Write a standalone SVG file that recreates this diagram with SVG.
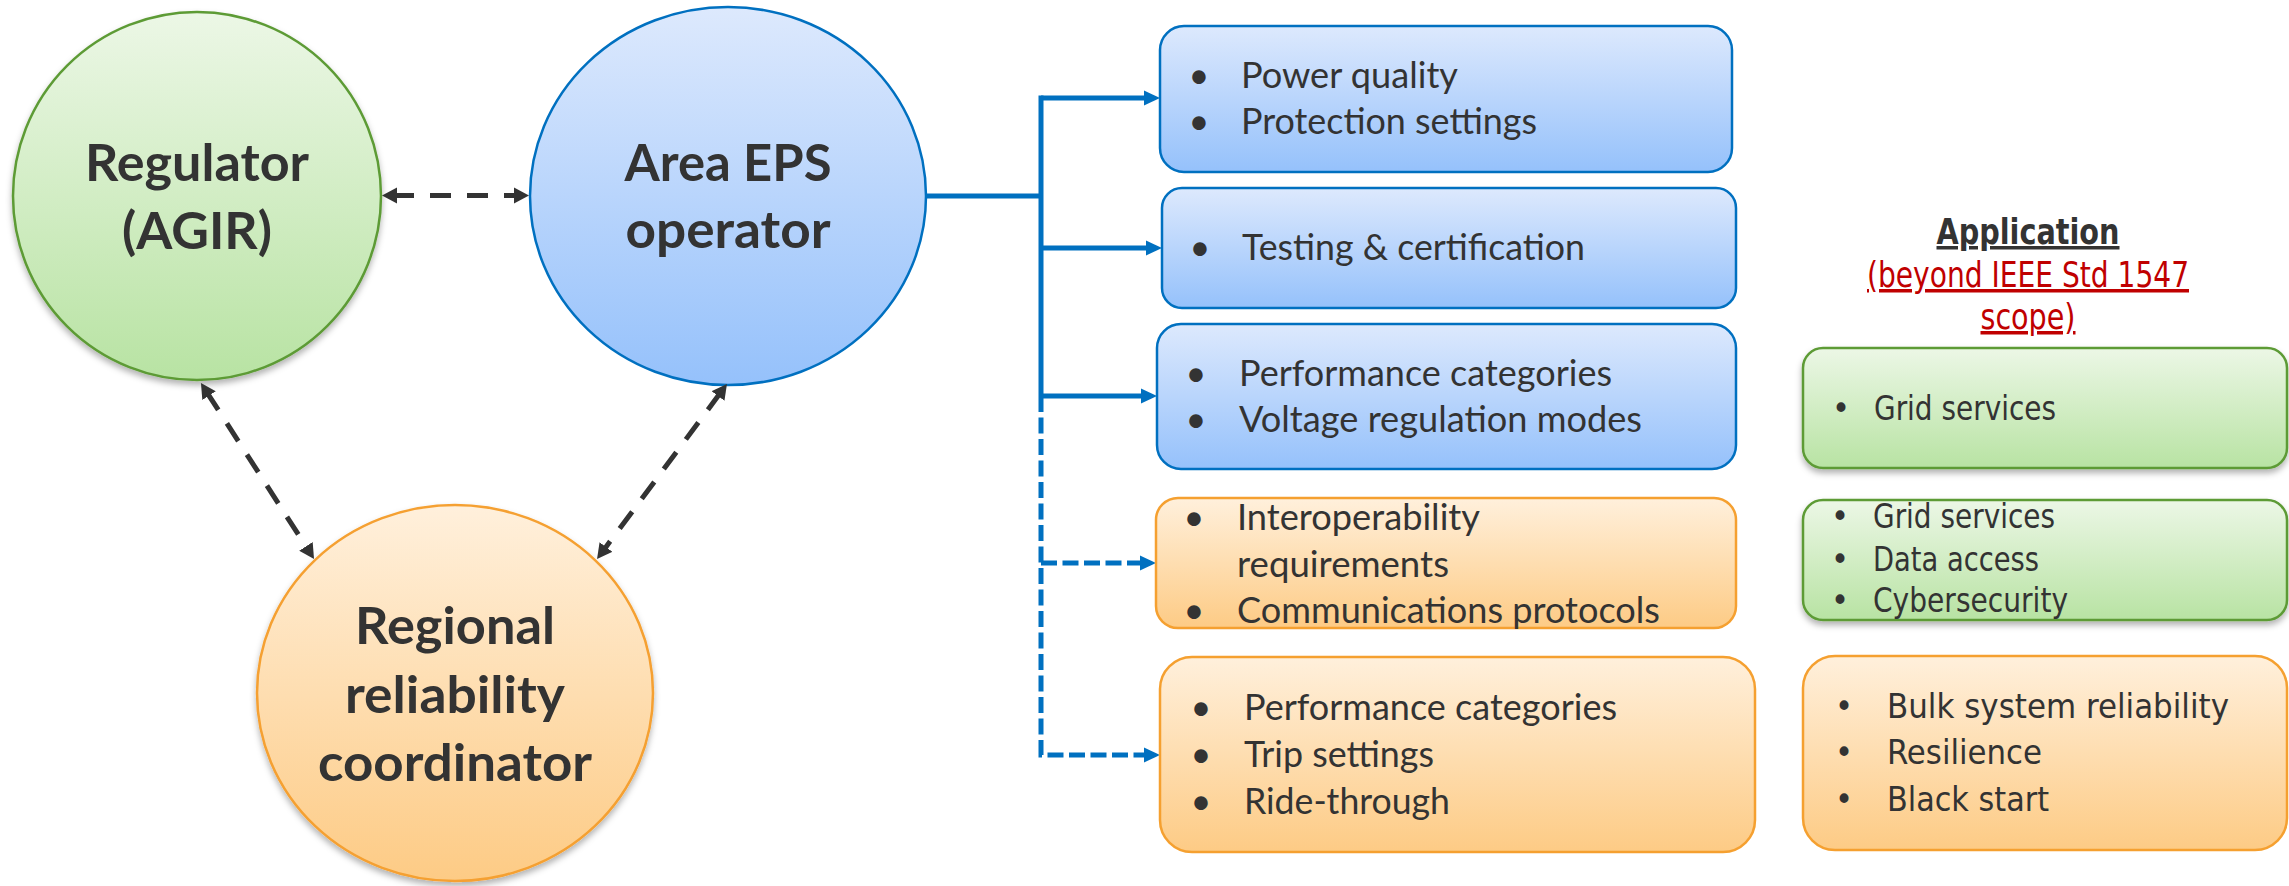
<svg xmlns="http://www.w3.org/2000/svg" width="2289" height="886" viewBox="0 0 2289 886">
<style>
.cl{font-family:Lato,"Liberation Sans",sans-serif;font-weight:700;font-size:51px;fill:#333;text-anchor:middle}
.bt{font-family:Lato,"Liberation Sans",sans-serif;font-size:36px;fill:#333}
.bu{font-family:Lato,"Liberation Sans",sans-serif;font-size:36px;fill:#333;text-anchor:middle}
.rt{font-family:"DejaVu Sans Condensed","DejaVu Sans",sans-serif;font-size:34px;fill:#333}
.rb{font-family:"DejaVu Sans Condensed","DejaVu Sans",sans-serif;font-size:34px;fill:#333;text-anchor:middle}
.hd{font-family:"DejaVu Sans Condensed","DejaVu Sans",sans-serif;font-size:35px;text-anchor:middle;text-decoration:underline}
.blue{fill:url(#gBlue);stroke:#0070c0;stroke-width:2.5}
.green{fill:url(#gGreen);stroke:#5d9b36;stroke-width:2.5}
.orange{fill:url(#gOrange);stroke:#f5a030;stroke-width:2.5}
.gray{fill:none;stroke:#333;stroke-width:5;stroke-dasharray:21 16}
.bl{fill:none;stroke:#0070c0;stroke-width:5}
.bd{fill:none;stroke:#0070c0;stroke-width:5;stroke-dasharray:16 5.5}
</style>
<defs>
<linearGradient id="gBlue" x1="0" y1="0" x2="0" y2="1"><stop offset="0" stop-color="#dde9fd"/><stop offset="1" stop-color="#95c1fb"/></linearGradient>
<linearGradient id="gGreen" x1="0" y1="0" x2="0" y2="1"><stop offset="0" stop-color="#ecf7e6"/><stop offset="1" stop-color="#b8e3a3"/></linearGradient>
<linearGradient id="gOrange" x1="0" y1="0" x2="0" y2="1"><stop offset="0" stop-color="#fff0dc"/><stop offset="1" stop-color="#fdcb85"/></linearGradient>
<filter id="sh" x="-10%" y="-10%" width="120%" height="130%"><feDropShadow dx="0" dy="4" stdDeviation="3" flood-color="#000" flood-opacity="0.3"/></filter>
<marker id="aBlue" markerUnits="userSpaceOnUse" markerWidth="17" markerHeight="16" viewBox="0 0 17 16" refX="5" refY="8" orient="auto"><path d="M0,0.5 L16,8 L0,15.5 z" fill="#0070c0"/></marker>
<marker id="aGray" markerUnits="userSpaceOnUse" markerWidth="16" markerHeight="17" viewBox="0 0 16 17" refX="4" refY="8.5" orient="auto-start-reverse"><path d="M0,0.5 L15,8.5 L0,16.5 z" fill="#333"/></marker>
</defs>
<rect width="2289" height="886" fill="#fff"/>

<g id="regulator">
<ellipse cx="197" cy="196" rx="184" ry="184" class="green" filter="url(#sh)"/>
<text class="cl" x="197" y="181" textLength="224" lengthAdjust="spacingAndGlyphs">Regulator</text>
<text class="cl" x="197" y="249" textLength="150" lengthAdjust="spacingAndGlyphs">(AGIR)</text>
</g>
<g id="area-eps">
<ellipse cx="728" cy="196" rx="198" ry="189" class="blue"/>
<text class="cl" x="728" y="181" textLength="207" lengthAdjust="spacingAndGlyphs">Area EPS</text>
<text class="cl" x="728" y="248" textLength="205" lengthAdjust="spacingAndGlyphs">operator</text>
</g>
<g id="regional">
<ellipse cx="455" cy="693" rx="198" ry="188" class="orange" filter="url(#sh)"/>
<text class="cl" x="455" y="644" textLength="200" lengthAdjust="spacingAndGlyphs">Regional</text>
<text class="cl" x="455" y="713" textLength="220" lengthAdjust="spacingAndGlyphs">reliability</text>
<text class="cl" x="455" y="781" textLength="274" lengthAdjust="spacingAndGlyphs">coordinator</text>
</g>

<g id="connectors">
<path class="gray" d="M393,195.5 H518" marker-start="url(#aGray)" marker-end="url(#aGray)"/>
<path class="gray" d="M206.9,392.3 L308.1,549.7" marker-start="url(#aGray)" marker-end="url(#aGray)"/>
<path class="gray" d="M720.4,392.8 L603.6,550.2" marker-start="url(#aGray)" marker-end="url(#aGray)"/>
<path class="bl" d="M926,196 H1041 M1041,95.5 V396"/>
<path class="bl" d="M1041,98 H1149" marker-end="url(#aBlue)"/>
<path class="bl" d="M1041,248 H1151" marker-end="url(#aBlue)"/>
<path class="bl" d="M1041,396 H1146" marker-end="url(#aBlue)"/>
<path class="bd" d="M1041,396 V755 H1149" marker-end="url(#aBlue)"/>
<path class="bd" d="M1041,563 H1145" marker-end="url(#aBlue)"/>
</g>

<g id="box-power">
<rect x="1160" y="26" width="572" height="146" rx="24" class="blue"/>
<text class="bu" x="1199" y="88">•</text><text class="bt" x="1241" y="88" textLength="217" lengthAdjust="spacingAndGlyphs">Power quality</text>
<text class="bu" x="1199" y="134">•</text><text class="bt" x="1241" y="134" textLength="296" lengthAdjust="spacingAndGlyphs">Protection settings</text>
</g>
<g id="box-testing">
<rect x="1162" y="188" width="574" height="120" rx="20" class="blue"/>
<text class="bu" x="1200" y="260">•</text><text class="bt" x="1242" y="260" textLength="343" lengthAdjust="spacingAndGlyphs">Testing &amp; certification</text>
</g>
<g id="box-performance">
<rect x="1157" y="324" width="579" height="145" rx="24" class="blue"/>
<text class="bu" x="1196" y="386">•</text><text class="bt" x="1239" y="386" textLength="373" lengthAdjust="spacingAndGlyphs">Performance categories</text>
<text class="bu" x="1196" y="432">•</text><text class="bt" x="1239" y="432" textLength="403" lengthAdjust="spacingAndGlyphs">Voltage regulation modes</text>
</g>
<g id="box-interop">
<rect x="1156" y="498" width="580" height="130" rx="22" class="orange"/>
<text class="bu" x="1194" y="530">•</text><text class="bt" x="1237" y="530" textLength="243" lengthAdjust="spacingAndGlyphs">Interoperability</text>
<text class="bt" x="1237" y="577" textLength="212" lengthAdjust="spacingAndGlyphs">requirements</text>
<text class="bu" x="1194" y="623">•</text><text class="bt" x="1237" y="623" textLength="423" lengthAdjust="spacingAndGlyphs">Communications protocols</text>
</g>
<g id="box-trip">
<rect x="1160" y="657" width="595" height="195" rx="32" class="orange"/>
<text class="bu" x="1201" y="720">•</text><text class="bt" x="1244" y="720" textLength="373" lengthAdjust="spacingAndGlyphs">Performance categories</text>
<text class="bu" x="1201" y="767">•</text><text class="bt" x="1244" y="767" textLength="190" lengthAdjust="spacingAndGlyphs">Trip settings</text>
<text class="bu" x="1201" y="814">•</text><text class="bt" x="1244" y="814" textLength="206" lengthAdjust="spacingAndGlyphs">Ride-through</text>
</g>

<g id="application-heading">
<text class="hd" x="2028" y="244" font-weight="700" fill="#333" textLength="183" lengthAdjust="spacingAndGlyphs">Application</text>
<text class="hd" x="2028" y="287" fill="#c00000" textLength="322" lengthAdjust="spacingAndGlyphs">(beyond IEEE Std 1547</text>
<text class="hd" x="2028" y="329" fill="#c00000" textLength="95" lengthAdjust="spacingAndGlyphs">scope)</text>
</g>
<g id="app-grid">
<rect x="1803" y="348" width="484" height="120" rx="20" class="green" filter="url(#sh)"/>
<text class="rb" x="1841" y="420">•</text><text class="rt" x="1874" y="420" textLength="182" lengthAdjust="spacingAndGlyphs">Grid services</text>
</g>
<g id="app-data">
<rect x="1803" y="500" width="484" height="120" rx="20" class="green" filter="url(#sh)"/>
<text class="rb" x="1840" y="528">•</text><text class="rt" x="1873" y="528" textLength="182" lengthAdjust="spacingAndGlyphs">Grid services</text>
<text class="rb" x="1840" y="571">•</text><text class="rt" x="1873" y="571" textLength="166" lengthAdjust="spacingAndGlyphs">Data access</text>
<text class="rb" x="1840" y="612">•</text><text class="rt" x="1873" y="612" textLength="195" lengthAdjust="spacingAndGlyphs">Cybersecurity</text>
</g>
<g id="app-bulk">
<rect x="1803" y="656" width="484" height="194" rx="32" class="orange"/>
<text class="rb" x="1844" y="718" font-size="38">•</text><text class="rt" x="1887" y="718" font-size="36" textLength="342" lengthAdjust="spacingAndGlyphs">Bulk system reliability</text>
<text class="rb" x="1844" y="764" font-size="38">•</text><text class="rt" x="1887" y="764" font-size="36" textLength="155" lengthAdjust="spacingAndGlyphs">Resilience</text>
<text class="rb" x="1844" y="811" font-size="38">•</text><text class="rt" x="1887" y="811" font-size="36" textLength="162" lengthAdjust="spacingAndGlyphs">Black start</text>
</g>
</svg>
